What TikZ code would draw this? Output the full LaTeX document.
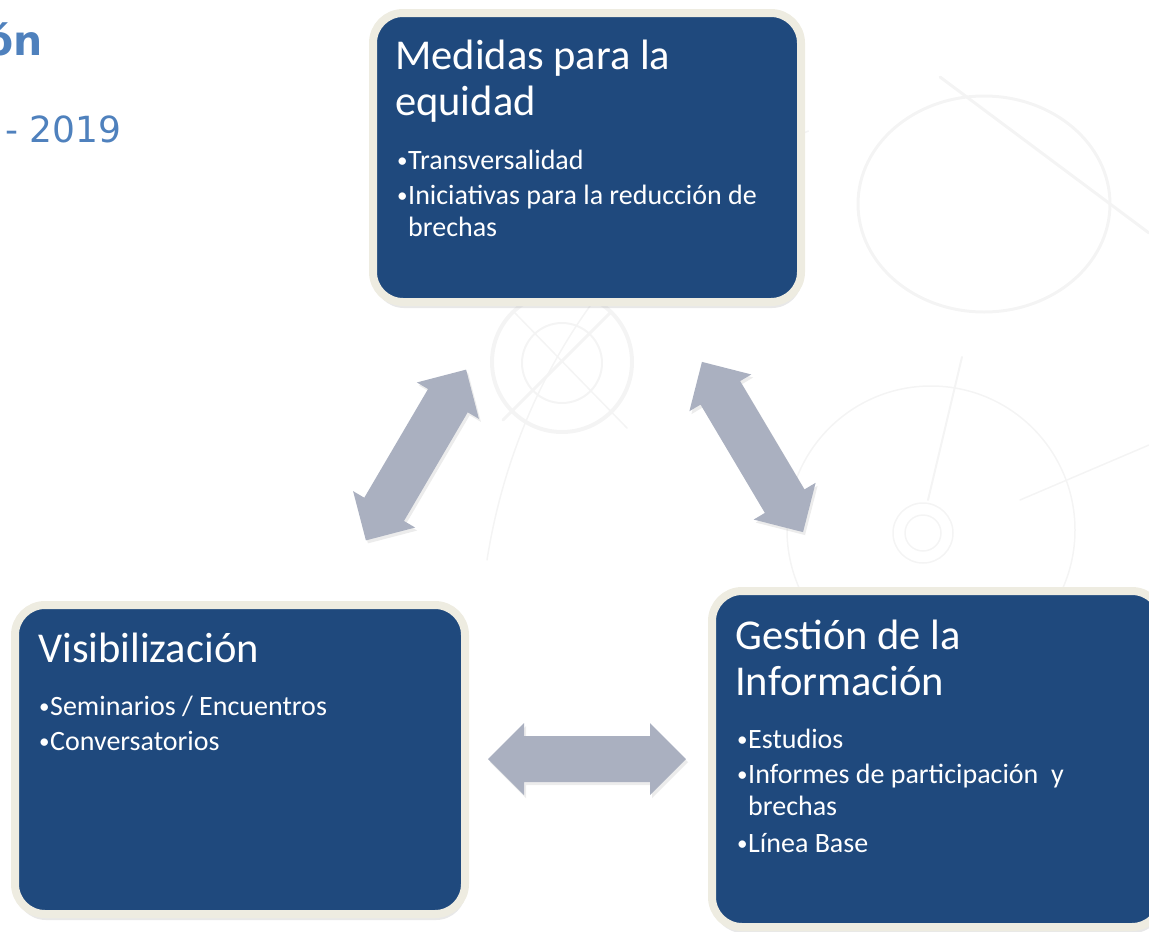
\documentclass[tikz,border=0pt]{standalone}
\usepackage{fontspec}
\setmainfont{Carlito}
\newfontfamily\hdfont{DejaVu Sans}
\usetikzlibrary{shadows}
\definecolor{boxblue}{HTML}{1F497D}
\definecolor{boxrim}{HTML}{EEECE1}
\definecolor{arrowgray}{HTML}{AAB0C0}
\definecolor{headblue}{HTML}{4F81BD}
\definecolor{wmark}{HTML}{F4F4F4}
\newcommand{\bul}{\makebox[11pt][l]{\fontsize{21}{21}\selectfont\raisebox{1.5pt}{•}}}

\begin{document}
\begin{tikzpicture}[x=1pt,y=-1pt,
  bx/.style={rectangle,rounded corners=30pt,draw=boxrim,line width=8pt,fill=boxblue,inner sep=0pt,outer sep=0pt,
    drop shadow={shadow xshift=1pt,shadow yshift=-6pt,opacity=0.18}},
  hd/.style={anchor=base west,align=left,inner sep=0pt,text=white,font=\fontsize{42.5}{46}\selectfont},
  it/.style={anchor=base west,align=left,inner sep=0pt,text=white,font=\fontsize{28}{32}\selectfont},
  wm/.style={draw=wmark,line width=2pt,line cap=round},
  dbl/.pic={\fill[arrowgray,drop shadow={shadow xshift=2pt,shadow yshift=-3pt,opacity=0.15}]
    (-99,0)--(-63,-36)--(-63,-23)--(63,-23)--(63,-36)--(99,0)--(63,36)--(63,23)--(-63,23)--(-63,36)--cycle;}]
  \useasboundingbox (0,0) rectangle (1149,932);

  \draw[wm,line width=4pt] (562,362) circle (70);
  \draw[wm] (562,363) circle (40);
  \draw[wm,line width=3pt] (503,420)--(610,313);
  \draw[wm,line width=1.5pt] (515,313)--(627,428);
  \draw[wm,line width=3pt] (984,204) ellipse (126 and 108);
  \draw[wm,line width=1.5pt] (931,530) circle (144);
  \draw[wm,line width=1.5pt] (923,533) circle (30);
  \draw[wm,line width=1.5pt] (923,533) circle (18);
  \draw[wm] (962,357)--(928,500);
  \draw[wm,line width=3pt] (940,77)--(1149,233);
  \draw[wm,line width=1.5pt] (487,560) arc (190:250:500 and 560);
  \draw[wm,line width=1.5pt] (1149,445)--(1020,500);

  \node[anchor=base east,inner sep=0pt,text=headblue,font=\hdfont\bfseries\fontsize{41}{46}\selectfont] (ttl) at (43,55) {ón};
  \node[anchor=base west,inner sep=0pt,text=headblue,font=\hdfont\fontsize{36}{42}\selectfont] (yr) at (5,142) {- 2019};

  \node[bx,minimum width=428,minimum height=289] (med) at (587,157.5) {};
  \node[bx,minimum width=450,minimum height=309] (vis) at (240,759.5) {};
  \node[bx,minimum width=450,minimum height=336] (ges) at (937,759) {};

  \node[hd] (medT) at ([shift={(22,102)}]med.north west) {Medidas para la\\equidad};
  \node[it] (medL) at ([shift={(24,223)}]med.north west) {\bul Transversalidad\\[3pt]\bul Iniciativas para la reducción de\\\hspace*{11pt}brechas};
  \node[hd] (visT) at ([shift={(23,57)}]vis.north west) {Visibilización};
  \node[it] (visL) at ([shift={(24,145)}]vis.north west) {\bul Seminarios / Encuentros\\[3pt]\bul Conversatorios};
  \node[hd] (gesT) at ([shift={(23,104)}]ges.north west) {Gestión de la\\Información};
  \node[it] (gesL) at ([shift={(25,261)}]ges.north west) {\bul Estudios\\[3pt]\bul Informes de participación~ y\\\hspace*{11pt}brechas\\[5pt]\bul Línea Base};

  \pic[rotate=59.6] (a1) at (416,455) {dbl};
  \pic[rotate=-59.3] (a2) at (752.5,447) {dbl};
  \pic (a3) at (587,759) {dbl};
\end{tikzpicture}
\end{document}
